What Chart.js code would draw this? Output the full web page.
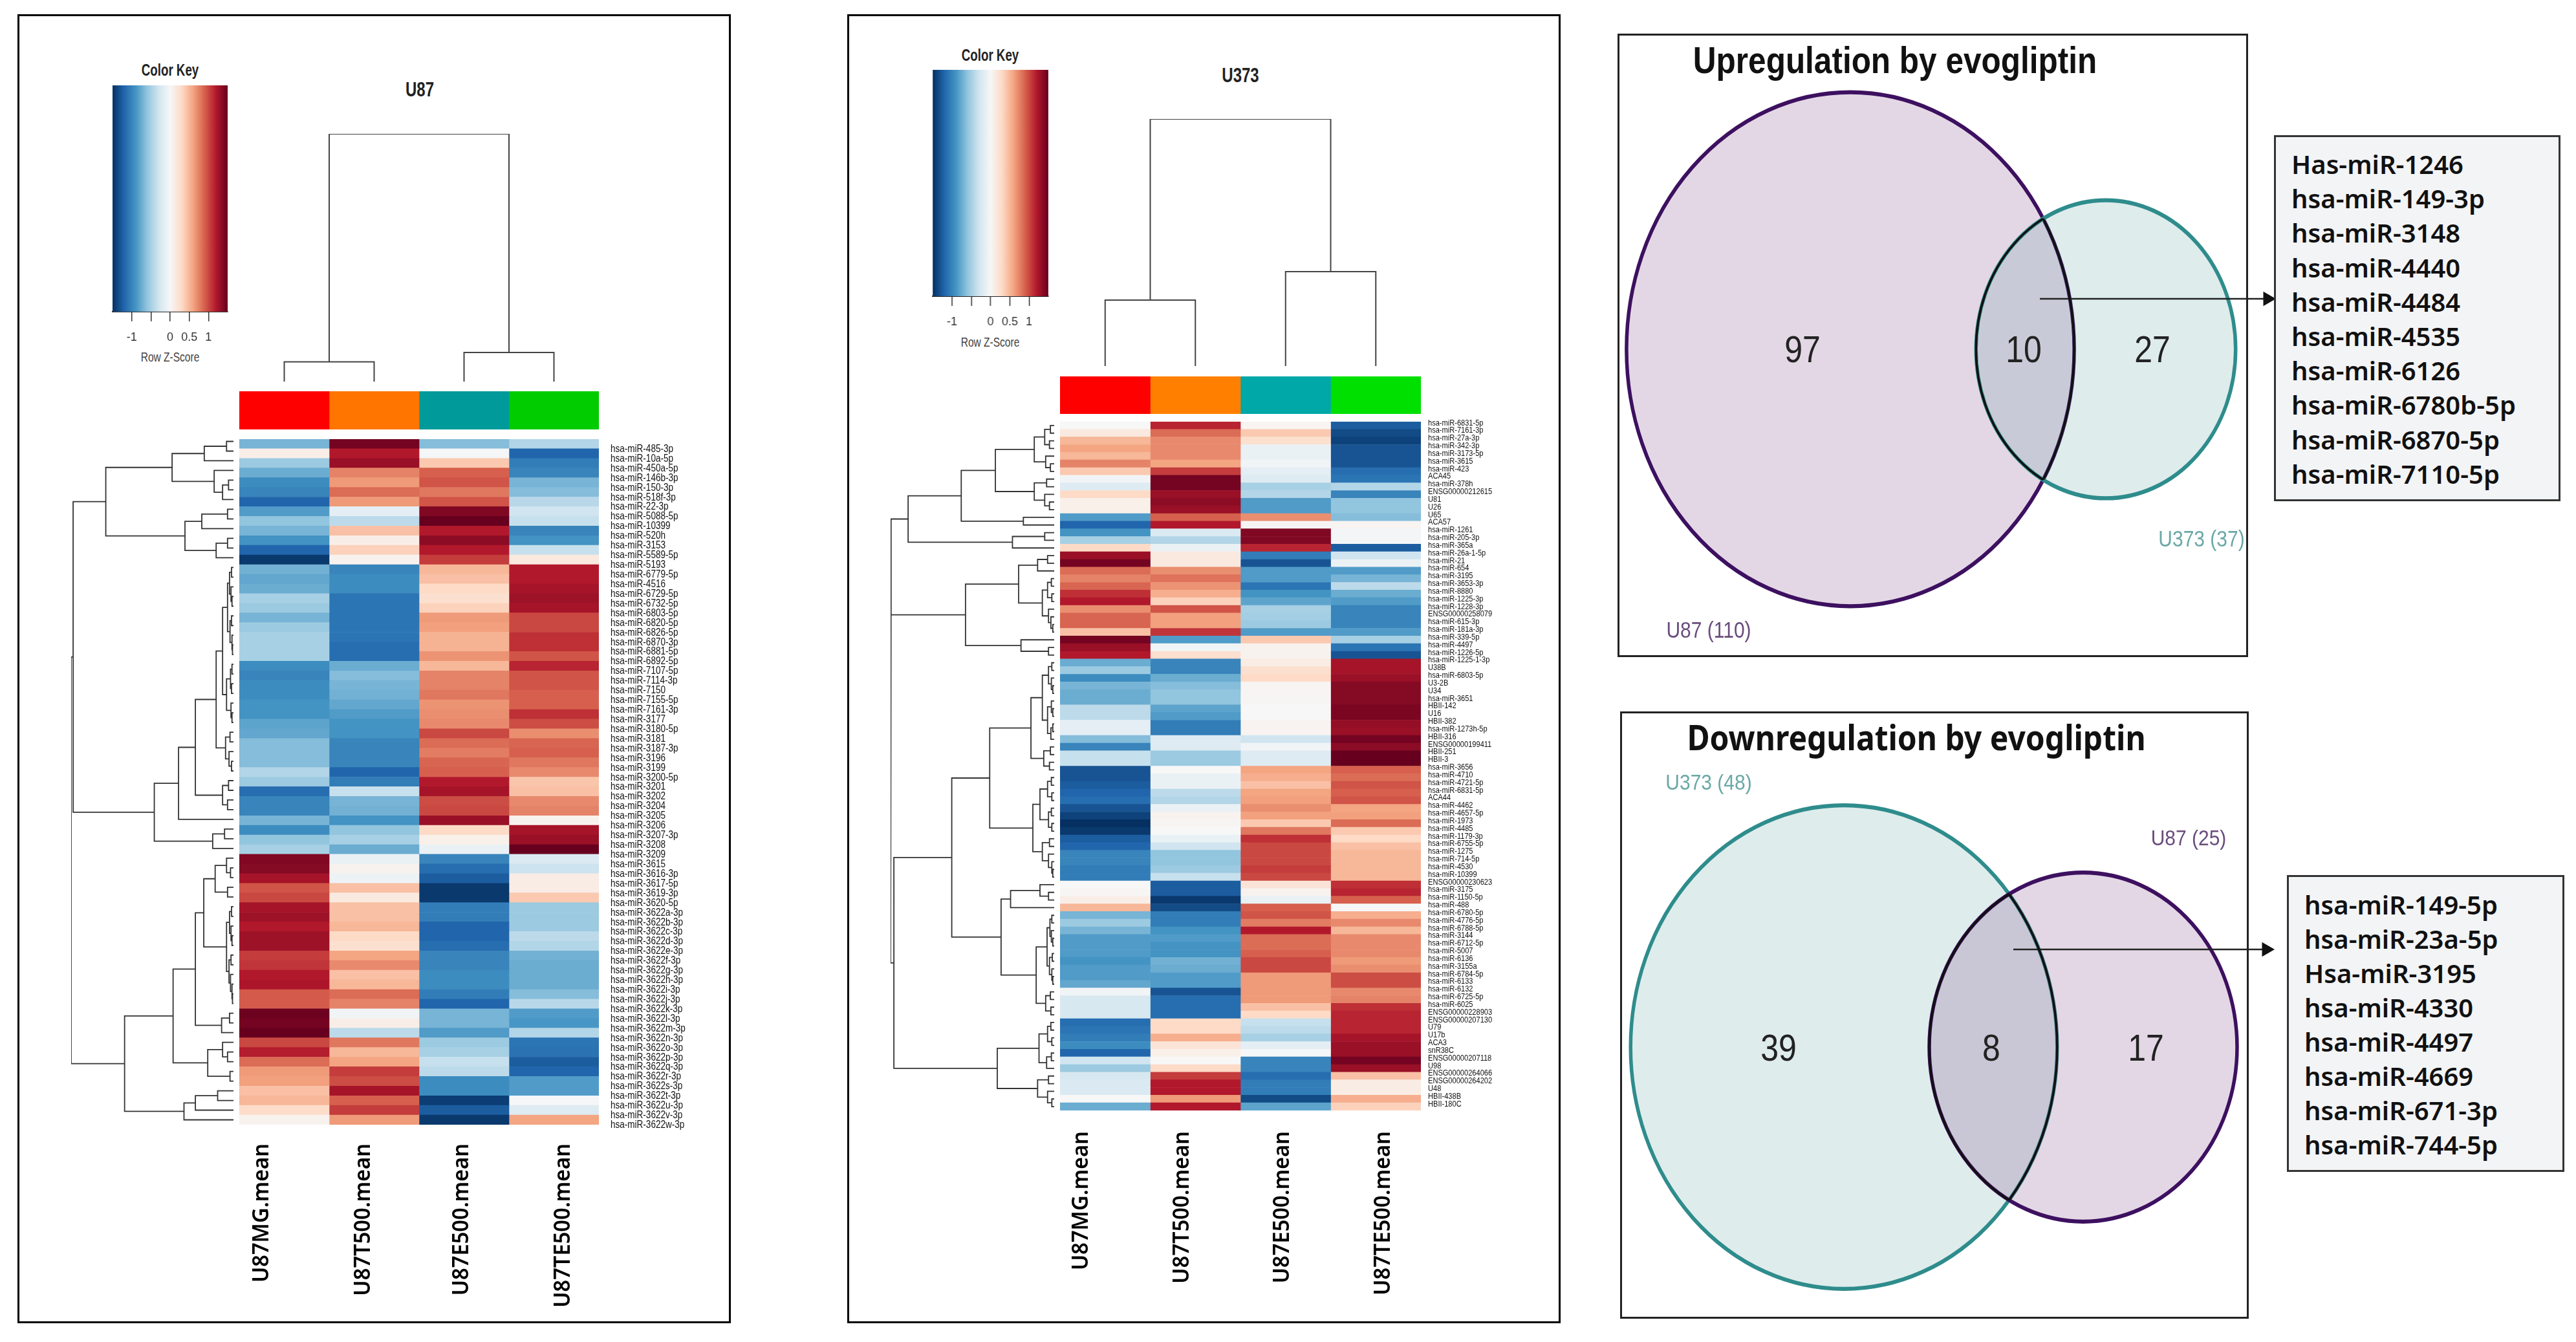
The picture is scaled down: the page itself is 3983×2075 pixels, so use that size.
<!DOCTYPE html>
<html>
<head>
<meta charset="utf-8">
<title>U87 / U373 miRNA heatmaps and evogliptin Venn diagrams</title>
<script src="https://cdn.jsdelivr.net/npm/chart.js@4/dist/chart.umd.js"></script>
<style>
    html, body { margin: 0; padding: 0; background: #fff; }
    #stage { position: relative; width: 3983px; height: 2075px; overflow: hidden; background: #fff; }
    .frame { position: absolute; box-sizing: border-box; background: transparent; }
    .label { position: absolute; white-space: nowrap; line-height: 1; }
    .gene-box { position: absolute; box-sizing: border-box; background: #f3f4f6; border: 3px solid #333; }
</style>
</head>
<body>
<div id="stage"></div>
<script>
// ==================== DATA ====================
const columnLabels = ['U87MG.mean', 'U87T500.mean', 'U87E500.mean', 'U87TE500.mean'];

// Color key
const keyStops = [-1.5, -1.2, -0.9, -0.6, -0.3, 0, 0.3, 0.6, 0.9, 1.2, 1.5];
const keyColors = ['#053061', '#2166ac', '#4393c3', '#92c5de', '#d1e5f0', '#f7f7f7', '#fddbc7', '#f4a582', '#d6604d', '#b2182b', '#67001f'];
const keyTicks = [-1, -0.5, 0, 0.5, 1];
const keyTickLabels = ['-1', '', '0', '0.5', '1'];

// U87 heatmap
const u87Rows = ['hsa-miR-485-3p','hsa-miR-10a-5p','hsa-miR-450a-5p','hsa-miR-146b-3p','hsa-miR-150-3p','hsa-miR-518f-3p','hsa-miR-22-3p','hsa-miR-5088-5p','hsa-miR-10399','hsa-miR-520h','hsa-miR-3153','hsa-miR-5589-5p','hsa-miR-5193',
    'hsa-miR-6779-5p','hsa-miR-4516','hsa-miR-6729-5p','hsa-miR-6732-5p','hsa-miR-6803-5p','hsa-miR-6820-5p','hsa-miR-6826-5p','hsa-miR-6870-3p','hsa-miR-6881-5p','hsa-miR-6892-5p',
    'hsa-miR-7107-5p','hsa-miR-7114-3p','hsa-miR-7150','hsa-miR-7155-5p','hsa-miR-7161-3p','hsa-miR-3177','hsa-miR-3180-5p','hsa-miR-3181','hsa-miR-3187-3p','hsa-miR-3196','hsa-miR-3199','hsa-miR-3200-5p','hsa-miR-3201',
    'hsa-miR-3202','hsa-miR-3204','hsa-miR-3205','hsa-miR-3206','hsa-miR-3207-3p','hsa-miR-3208','hsa-miR-3209','hsa-miR-3615','hsa-miR-3616-3p','hsa-miR-3617-5p','hsa-miR-3619-3p','hsa-miR-3620-5p',
    'hsa-miR-3622a-3p','hsa-miR-3622b-3p','hsa-miR-3622c-3p','hsa-miR-3622d-3p','hsa-miR-3622e-3p','hsa-miR-3622f-3p','hsa-miR-3622g-3p','hsa-miR-3622h-3p','hsa-miR-3622i-3p','hsa-miR-3622j-3p','hsa-miR-3622k-3p','hsa-miR-3622l-3p','hsa-miR-3622m-3p','hsa-miR-3622n-3p','hsa-miR-3622o-3p','hsa-miR-3622p-3p','hsa-miR-3622q-3p','hsa-miR-3622r-3p','hsa-miR-3622s-3p','hsa-miR-3622t-3p','hsa-miR-3622u-3p','hsa-miR-3622v-3p','hsa-miR-3622w-3p'];
const u87MG = [-0.7,0.1,-0.55,-0.75,-0.95,-1.0,-1.2,-0.85,-0.6,-0.7,-0.9,-1.2,-1.45,
    -0.72,-0.78,-0.75,-0.5,-0.55,-0.7,-0.55,-0.5,-0.5,-0.5,-0.95,-1.0,-0.95,-0.95,-0.9,-0.9,-0.8,-0.78,-0.65,-0.65,-0.65,-0.45,-0.55,-1.15,
    -1.0,-1.0,-0.7,-0.95,-0.6,-0.5,
    1.4,1.38,1.25,0.95,1.0,1.25,1.28,1.2,1.28,1.28,1.05,1.08,1.2,1.22,0.92,0.92,1.48,1.45,1.5,1.0,1.18,0.85,0.65,0.62,0.45,0.5,0.28,0.05];
const u87T500 = [1.45,1.2,1.3,0.75,0.65,0.85,0.65,-0.15,-0.4,0.45,0.1,0.35,0.05,
    -1.0,-0.95,-0.95,-1.1,-1.1,-1.1,-1.1,-1.1,-1.15,-1.15,-0.75,-0.65,-0.7,-0.72,-0.78,-0.85,-0.9,-0.9,-1.0,-1.0,-1.0,-1.2,-1.05,-0.35,
    -0.7,-0.72,-0.9,-0.6,-0.5,-0.75,
    -0.1,0.05,-0.08,0.45,0.15,0.45,0.45,0.5,0.3,0.25,0.6,0.72,0.45,0.5,0.85,0.75,-0.05,0.1,-0.4,0.8,0.5,0.6,1.05,0.98,1.25,0.9,1.05,0.65];
const u87E500 = [-0.65,-0.02,0.4,0.9,0.95,0.8,0.95,1.4,1.5,1.2,1.35,1.2,1.05,
    0.5,0.45,0.3,0.25,0.35,0.65,0.62,0.52,0.52,0.68,0.5,0.75,0.75,0.8,0.68,0.7,0.72,1.0,0.85,0.78,0.88,0.9,1.2,1.25,
    0.98,1.0,1.3,0.3,0.08,-0.1,
    -1.0,-1.15,-1.25,-1.45,-1.45,-1.05,-1.05,-1.2,-1.2,-1.15,-1.0,-1.0,-0.95,-0.95,-1.05,-1.2,-0.7,-0.7,-0.85,-0.55,-0.5,-0.35,-0.4,-0.95,-0.95,-1.42,-1.25,-1.45];
const u87TE500 = [-0.45,-1.2,-1.05,-1.0,-0.7,-0.65,-0.42,-0.3,-0.35,-1.0,-0.9,-0.35,0.15,
    1.2,1.2,1.25,1.28,1.25,1.0,1.0,1.1,1.1,0.95,1.15,0.95,0.95,0.9,0.9,1.1,0.98,0.7,0.88,0.9,0.8,0.72,0.42,0.45,
    0.72,0.75,0.05,1.25,1.3,1.5,
    -0.22,-0.32,0.12,0.12,0.4,-0.55,-0.55,-0.55,-0.4,-0.45,-0.72,-0.75,-0.75,-0.75,-0.65,-0.42,-0.85,-0.88,-0.45,-1.1,-1.12,-1.25,-1.2,-0.85,-0.85,-0.02,-0.2,0.6];

// U373 heatmap
const u373Rows = ['hsa-miR-6831-5p','hsa-miR-7161-3p','hsa-miR-27a-3p','hsa-miR-342-3p','hsa-miR-3173-5p','hsa-miR-3615','hsa-miR-423','ACA45','hsa-miR-378h','ENSG00000212615','U81','U26','U65','ACA57','hsa-miR-1261','hsa-miR-205-3p','hsa-miR-365a','hsa-miR-26a-1-5p','hsa-miR-21','hsa-miR-654','hsa-miR-3195','hsa-miR-3653-3p','hsa-miR-8880',
    'hsa-miR-1225-3p','hsa-miR-1228-3p','ENSG00000258079','hsa-miR-615-3p','hsa-miR-181a-3p','hsa-miR-339-5p','hsa-miR-4497','hsa-miR-1226-5p','hsa-miR-1225-1-3p','U38B','hsa-miR-6803-5p','U3-2B','U34','hsa-miR-3651','HBII-142','U16','HBII-382','hsa-miR-1273h-5p','HBII-316','ENSG00000199411','HBII-251','HBII-3',
    'hsa-miR-3656','hsa-miR-4710','hsa-miR-4721-5p','hsa-miR-6831-5p','ACA44','hsa-miR-4462','hsa-miR-4657-5p','hsa-miR-1973','hsa-miR-4485','hsa-miR-1179-3p','hsa-miR-6755-5p','hsa-miR-1275','hsa-miR-714-5p','hsa-miR-4530','hsa-miR-10399','ENSG00000230623','hsa-miR-3175','hsa-miR-1150-5p','hsa-miR-488',
    'hsa-miR-6780-5p','hsa-miR-4776-5p','hsa-miR-6788-5p','hsa-miR-3144','hsa-miR-6712-5p','hsa-miR-5007','hsa-miR-6136','hsa-miR-3155a','hsa-miR-6784-5p','hsa-miR-6133','hsa-miR-6132','hsa-miR-6725-5p','hsa-miR-6025','ENSG00000228903','ENSG00000207130','U79','U17b','ACA3','snR38C','ENSG00000207118','U98','ENSG00000264066','ENSG00000264202','U48','HBII-438B','HBII-180C'];
const u373MG = [0.0,0.15,0.5,0.6,0.5,0.75,0.4,-0.05,-0.2,0.3,
    0.08,0.08,-0.85,-1.2,-0.9,-0.5,0.3,1.3,1.45,0.85,
    0.75,0.88,1.1,1.2,0.7,0.88,0.88,0.45,1.45,1.3,
    1.2,-0.75,-0.55,-0.95,-0.7,-0.75,-0.75,-0.4,-0.4,-0.15,
    -0.15,-0.65,-1.0,-0.35,-0.35,-1.3,
    -1.3,-1.25,-1.2,-1.15,-1.3,-1.4,-1.5,-1.45,-1.25,-1.2,-1.0,-1.0,-1.05,-1.05,
    0.0,0.02,0.1,0.5,-0.7,-0.55,-0.7,-0.85,-0.85,-0.85,-0.9,-0.85,-0.85,-0.78,-0.05,-0.25,-0.25,-0.25,
    -1.15,-1.1,-1.05,-0.95,-1.2,-0.3,-0.55,-0.25,-0.22,-0.22,0.0,-0.75];
const u373T500 = [1.15,0.85,0.72,0.72,0.72,0.6,1.05,1.45,1.45,1.3,
    1.35,1.3,0.9,1.2,-0.22,-0.45,-0.1,0.15,0.15,0.7,
    0.82,0.68,0.55,0.35,0.95,0.62,0.62,1.08,-0.85,-0.05,
    0.25,-1.0,-1.0,-0.75,-0.65,-0.6,-0.6,-0.8,-0.85,-1.05,
    -1.05,-0.2,-0.2,-0.55,-0.55,0.0,
    -0.1,-0.1,-0.4,-0.45,-0.1,0.05,0.02,0.0,-0.1,-0.3,-0.6,-0.6,-0.55,-0.35,
    -1.25,-1.25,-1.45,-1.35,-1.05,-1.05,-0.9,-0.85,-0.9,-0.9,-0.72,-0.75,-0.85,-0.85,-1.3,-1.15,-1.15,-1.15,
    0.3,0.3,0.55,0.2,0.08,0.0,0.3,1.05,1.2,1.2,0.65,1.2];
const u373E500 = [0.03,0.4,0.25,-0.1,-0.1,-0.05,-0.15,-0.2,-0.5,-0.45,
    -0.85,-0.85,0.7,0.02,1.4,1.4,1.15,-1.05,-1.3,-0.85,
    -0.85,-1.1,-0.9,-0.8,-0.5,-0.52,-0.55,-0.85,0.4,0.05,
    0.05,0.12,0.25,0.3,0.03,0.02,0.02,0.0,0.0,0.04,
    0.04,-0.3,-0.05,-0.2,-0.2,0.6,
    0.55,0.45,0.6,0.62,0.7,0.62,0.4,0.8,1.1,1.0,1.0,1.0,1.05,1.0,
    0.2,0.05,-0.1,0.9,0.95,0.78,1.2,0.85,0.85,0.9,1.0,1.0,0.65,0.65,0.65,0.65,0.45,0.3,
    -0.35,-0.4,-0.5,-0.15,-0.02,-1.0,-1.0,-1.15,-1.05,-1.05,-1.35,-0.8];
const u373TE500 = [-1.25,-1.35,-1.4,-1.3,-1.3,-1.3,-1.15,-1.1,-0.45,-1.0,
    -0.6,-0.6,-0.65,0.03,-0.03,-0.03,-1.25,-0.3,-0.1,-0.85,
    -0.7,-0.4,-0.75,-0.85,-1.0,-1.0,-1.0,-0.85,-0.5,-1.1,
    -1.3,1.25,1.25,1.3,1.38,1.38,1.38,1.42,1.42,1.32,
    1.3,1.45,1.35,1.5,1.5,0.9,
    0.85,0.95,0.9,0.95,0.6,0.62,0.85,0.4,0.3,0.45,0.5,0.5,0.5,0.5,
    1.1,1.15,0.9,0.0,0.55,0.72,0.5,0.72,0.72,0.72,0.65,0.7,0.98,0.98,0.72,0.75,1.1,1.15,
    1.15,1.15,1.25,1.3,1.3,1.45,1.3,0.45,0.12,0.12,0.55,0.35];

// Dendrograms: a node is [height, left, right], a leaf is a row or column number
const u87ColTree = [383, [30.5, 0, 1], [45, 2, 3]];
const u373ColTree = [382, [102, 0, 1], [146, 2, 3]];

const u87TreeA = [258,
    [124, [59, [14, 0, 1], 2], [39, 3, [22, [10, 4, 5], 6]]],
    [98, [64, [12, 7, 8], 9], [35, [12, 10, 11], 12]]];
const u87TreeB1 = [35,
    [22, [12, [8, [4, 13, 14], [5, 15, [3, 16, 17]]], [7, [4, 18, 19], [3, 20, [2, 21, 22]]]],
        [14, [6, [3, 23, 24], [4, 25, 26]], [5, 27, [3, 28, 29]]]],
    [16, [7, 30, 31], [9, 32, [4, 33, 34]]]];
const u87TreeB = [160,
    [111, [77, u87TreeB1, [22, [10, 35, 36], [12, 37, 38]]], 39],
    [42, [18, 40, 41], 42]];
const u87TreeC1 = [60,
    [37, [14, 43, [6, 44, 45]], [12, 46, 47]],
    [14, [8, [4, 48, 49], [5, 50, [3, 51, 52]]], [9, [5, 53, 54], [6, 55, [3, 56, [2, 57, 58]]]]]];
const u87TreeC = [220,
    [122, [77, u87TreeC1, [24, [8, 59, 60], 61]], [52, [22, 62, [12, 63, 64]], [7, 65, 66]]],
    [100, [77, [32, 67, 68], 69], 70]];
const u87RowTree = [328, [324, u87TreeA, u87TreeB], u87TreeC];

const u373TreeP = [344,
    [308,
        [196,
            [124, [42, [20, [8, 0, 1], [10, 2, 3]], [18, 4, [8, 5, 6]]], [42, [16, 7, 8], [20, 9, [10, 10, 11]]]],
            [65, 12, 13]],
        [88, [20, 14, 15], 16]],
    [187,
        [75, [35, [14, 17, 18], 19], [25, [14, [6, 20, 21], [5, 22, 23]], [12, 24, [7, 25, [3, 26, 27]]]]],
        [70, 28, [12, 29, 30]]]];
const u373TreeQ1 = [136,
    [49, [25, [12, [5, 31, 32], [6, 33, [3, 34, 35]]], [14, [6, 36, [3, 37, 38]], [7, [3, 39, 40], 41]]], [22, [8, 42, 43], [10, 44, 45]]],
    [45, [30, [14, [6, 46, 47], [5, 48, 49]], [12, [6, 50, 51], [5, 52, 53]]], [25, [10, 54, 55], [12, 56, [5, 57, [3, 58, 59]]]]]];
const u373TreeQ2 = [112,
    [92, [30, 60, [12, 61, 62]], 63],
    [38, [15, [9, [5, 64, 65], [6, 66, [3, 67, 68]]], [10, [4, 69, 70], [5, 71, [3, 72, 73]]]], [18, [8, 74, 75], [7, 76, 77]]]];
const u373TreeQ3 = [120,
    [32, [14, [7, 78, 79], [5, 80, 81]], [16, [6, 82, 83], 84]],
    [35, [12, 85, 86], [14, 87, [5, 88, 89]]]];
const u373RowTree = [345, u373TreeP, [338, [216, u373TreeQ1, u373TreeQ2], u373TreeQ3]];

// Venn diagrams
const upSetNames = ['U87 (110)', 'U373 (37)'];
const upSetSizes = [110, 37];
const upCounts = [97, 10, 27];
const upGenes = ['Has-miR-1246', 'hsa-miR-149-3p', 'hsa-miR-3148', 'hsa-miR-4440', 'hsa-miR-4484', 'hsa-miR-4535', 'hsa-miR-6126', 'hsa-miR-6780b-5p', 'hsa-miR-6870-5p', 'hsa-miR-7110-5p'];
const downSetNames = ['U373 (48)', 'U87 (25)'];
const downSetSizes = [48, 25];
const downCounts = [39, 8, 17];
const downGenes = ['hsa-miR-149-5p', 'hsa-miR-23a-5p', 'Hsa-miR-3195', 'hsa-miR-4330', 'hsa-miR-4497', 'hsa-miR-4669', 'hsa-miR-671-3p', 'hsa-miR-744-5p'];

// ==================== HELPERS ====================
const stage = document.getElementById('stage');
const SANS = "'Liberation Sans', sans-serif";
const PURPLE = { stroke: '#3d1060', fill: 'rgba(90, 20, 100, 0.17)', text: '#6a4c7c' };
const TEAL = { stroke: '#2f8c8c', fill: 'rgba(67, 143, 143, 0.17)', text: '#6ba8a6' };

Chart.defaults.animation = false;
Chart.defaults.responsive = false;
Chart.defaults.devicePixelRatio = 1;
Chart.defaults.layout.autoPadding = false;
Chart.defaults.plugins.legend.display = false;
Chart.defaults.plugins.tooltip.enabled = false;
Chart.defaults.events = [];

function makeCanvas(x, y, w, h) {
    const canvas = document.createElement('canvas');
    canvas.width = w;
    canvas.height = h;
    canvas.style.cssText = `position:absolute;left:${x}px;top:${y}px;width:${w}px;height:${h}px`;
    stage.appendChild(canvas);
    return canvas;
}

function addFrame(x1, y1, x2, y2, border) {
    const div = document.createElement('div');
    div.className = 'frame';
    div.style.cssText = `left:${x1}px;top:${y1}px;width:${x2 - x1}px;height:${y2 - y1}px;border:${border}`;
    stage.appendChild(div);
}

function addText(text, x, y, css, scaleY, scaleX) {
    const span = document.createElement('span');
    span.className = 'label';
    span.textContent = text;
    span.style.cssText = `left:${x}px;top:${y}px;${css};transform:translate(-50%,-50%) scale(${scaleX || 1},${scaleY || 1})`;
    stage.appendChild(span);
}

function zColor(z) {
    const last = keyStops.length - 1;
    let i = 0;
    while (i < last - 1 && z > keyStops[i + 1]) i++;
    const t = Math.min(1, Math.max(0, (z - keyStops[i]) / (keyStops[i + 1] - keyStops[i])));
    const c1 = parseInt(keyColors[i].slice(1), 16);
    const c2 = parseInt(keyColors[i + 1].slice(1), 16);
    const mix = shift => Math.round(((c1 >> shift) & 255) * (1 - t) + ((c2 >> shift) & 255) * t);
    return `rgb(${mix(16)},${mix(8)},${mix(0)})`;
}

// walks the tree and writes its elbows as points, nulls break the line
function treeSegments(node, points, flip) {
    if (typeof node === 'number') return { pos: node + 0.5, h: 0 };
    const a = treeSegments(node[1], points, flip);
    const b = treeSegments(node[2], points, flip);
    const elbow = [[a.h, a.pos], [node[0], a.pos], [node[0], b.pos], [b.h, b.pos]];
    elbow.forEach(p => points.push(flip ? { x: p[1], y: p[0] } : { x: p[0], y: p[1] }));
    points.push({ x: null, y: null });
    return { pos: (a.pos + b.pos) / 2, h: node[0] };
}

// no condensed font is installed, so the axes squeeze their labels themselves
class NarrowRowScale extends Chart.CategoryScale {
    drawLabels(chartArea) {
        const anchor = this.left + this.options.ticks.padding;
        this.ctx.save();
        this.ctx.translate(anchor, 0);
        this.ctx.scale(this.options.ticks.squeeze, 1);
        this.ctx.translate(-anchor, 0);
        super.drawLabels(chartArea);
        this.ctx.restore();
    }
}
NarrowRowScale.id = 'narrowRows';
NarrowRowScale.defaults = Chart.CategoryScale.defaults;

class NarrowColumnScale extends Chart.LinearScale {
    drawLabels(chartArea) {
        const anchor = this.top + this.options.ticks.padding;
        this.ctx.save();
        this.ctx.translate(0, anchor);
        this.ctx.scale(1, this.options.ticks.squeeze);
        this.ctx.translate(0, -anchor);
        super.drawLabels(chartArea);
        this.ctx.restore();
    }
}
NarrowColumnScale.id = 'narrowColumns';
NarrowColumnScale.defaults = Chart.LinearScale.defaults;
Chart.register(NarrowRowScale, NarrowColumnScale);

// ==================== CHARTS ====================
function renderizarColorKey(box) {
    new Chart(makeCanvas(box.left - 30, box.top, box.width + 60, box.height + 90), {
        type: 'bar',
        data: {
            labels: ['Z'],
            datasets: [{
                data: [[keyStops[0], keyStops[keyStops.length - 1]]],
                barPercentage: 1,
                categoryPercentage: 1,
                backgroundColor: ctx => {
                    const area = ctx.chart.chartArea;
                    const scale = ctx.chart.scales.x;
                    if (!area || !scale) return '#f7f7f7';
                    const gradient = ctx.chart.ctx.createLinearGradient(area.left, 0, area.right, 0);
                    keyStops.forEach((v, i) => {
                        gradient.addColorStop((v - keyStops[0]) / (keyStops[keyStops.length - 1] - keyStops[0]), keyColors[i]);
                    });
                    return gradient;
                }
            }]
        },
        options: {
            indexAxis: 'y',
            layout: { padding: { left: 30, right: 30 } },
            scales: {
                y: { display: false },
                x: {
                    min: keyStops[0],
                    max: keyStops[keyStops.length - 1],
                    afterBuildTicks: s => { s.ticks = keyTicks.map(v => ({ value: v })); },
                    afterFit: s => { s.height = 90; },
                    border: { display: true, color: '#222', width: 2 },
                    grid: { drawOnChartArea: false, drawTicks: true, tickLength: 15, color: '#333', lineWidth: 1.5 },
                    ticks: {
                        autoSkip: false,
                        maxRotation: 0,
                        padding: 14,
                        color: '#333',
                        font: { family: SANS, size: 18 },
                        callback: (value, index) => keyTickLabels[index]
                    }
                }
            }
        }
    });
}

function renderizarDendroColunas(tree, box) {
    const points = [];
    treeSegments(tree, points, true);
    new Chart(makeCanvas(box.left, box.top, box.width, box.height), {
        type: 'scatter',
        data: { datasets: [{ data: points, showLine: true, pointRadius: 0, borderColor: '#444', borderWidth: 2, clip: false }] },
        options: {
            scales: {
                x: { type: 'linear', display: false, min: 0, max: 4 },
                y: { type: 'linear', display: false, min: 0, max: tree[0] }
            }
        }
    });
}

function renderizarDendroLinhas(tree, nRows, box) {
    const points = [];
    treeSegments(tree, points, false);
    new Chart(makeCanvas(box.left, box.top, box.width, box.height), {
        type: 'scatter',
        data: { datasets: [{ data: points, showLine: true, pointRadius: 0, borderColor: '#333', borderWidth: 1.8, clip: false }] },
        options: {
            scales: {
                x: { type: 'linear', display: false, reverse: true, min: 0, max: tree[0] },
                y: { type: 'linear', display: false, reverse: true, min: 0, max: nRows }
            }
        }
    });
}

function renderizarFaixa(colors, box) {
    new Chart(makeCanvas(box.left, box.top, box.width, box.height), {
        type: 'bar',
        data: {
            labels: ['group'],
            datasets: colors.map(c => ({ data: [1], backgroundColor: c, barPercentage: 1, categoryPercentage: 1 }))
        },
        options: {
            indexAxis: 'y',
            scales: {
                x: { display: false, stacked: true, min: 0, max: colors.length },
                y: { display: false, stacked: true }
            }
        }
    });
}

function renderizarHeatmap(rows, columns, labelSlots, box) {
    const pad = 24;
    const rightAxis = 250;
    const bottomAxis = 345;
    new Chart(makeCanvas(box.left - pad, box.top - pad, pad + box.width + rightAxis, pad + box.height + bottomAxis), {
        type: 'bar',
        data: {
            labels: rows,
            datasets: columns.map(col => ({
                data: col.map(() => 1),
                backgroundColor: col.map(zColor),
                barPercentage: 1,
                categoryPercentage: 1
            }))
        },
        options: {
            indexAxis: 'y',
            layout: { padding: { left: pad, top: pad, right: 0, bottom: 0 } },
            scales: {
                x: {
                    type: 'narrowColumns',
                    stacked: true,
                    min: 0,
                    max: columns.length,
                    afterBuildTicks: s => { s.ticks = labelSlots.map(v => ({ value: v })); },
                    afterFit: s => { s.height = bottomAxis; },
                    border: { display: false },
                    grid: { display: false, drawTicks: false },
                    ticks: {
                        autoSkip: false,
                        minRotation: 90,
                        maxRotation: 90,
                        padding: box.columnGap,
                        squeeze: 0.96,
                        color: '#000',
                        font: { family: "'Noto Sans', sans-serif", size: 34, weight: '600' },
                        callback: (value, index) => columnLabels[index]
                    }
                },
                y: {
                    type: 'narrowRows',
                    stacked: true,
                    position: 'right',
                    afterFit: s => { s.width = rightAxis; },
                    border: { display: false },
                    grid: { display: false, drawTicks: false },
                    ticks: {
                        autoSkip: false,
                        padding: box.rowGap,
                        squeeze: 0.82,
                        labelOffset: box.labelOffset,
                        color: '#111',
                        font: { family: SANS, size: box.labelSize }
                    }
                }
            }
        }
    });
}

// bubble whose circle is stretched to the ellipse of the stretched figure
class VennController extends Chart.BubbleController {
    draw() {
        const ctx = this.chart.ctx;
        const aspect = this.chart.options.vennAspect;
        this.getMeta().data.forEach(point => {
            ctx.save();
            ctx.translate(point.x, point.y);
            ctx.scale(1, aspect);
            ctx.translate(-point.x, -point.y);
            point.draw(ctx, this.chart.chartArea);
            ctx.restore();
        });
    }
}
VennController.id = 'venn';
VennController.defaults = Chart.BubbleController.defaults;
VennController.overrides = Chart.BubbleController.overrides;
Chart.register(VennController);

// black outline of the shared part of the two sets
const lensPlugin = {
    id: 'lens',
    afterDatasetsDraw(chart) {
        const aspect = chart.options.vennAspect;
        const a = chart.getDatasetMeta(0).data[0];
        const b = chart.getDatasetMeta(1).data[0];
        const ctx = chart.ctx;
        const path = p => {
            ctx.beginPath();
            ctx.ellipse(p.x, p.y, p.options.radius, p.options.radius * aspect, 0, 0, Math.PI * 2);
        };
        [[a, b], [b, a]].forEach(pair => {
            ctx.save();
            path(pair[0]);
            ctx.clip();
            path(pair[1]);
            ctx.strokeStyle = '#111';
            ctx.lineWidth = 3.5;
            ctx.stroke();
            ctx.restore();
        });
    }
};

function renderizarVenn(setSizes, styles, centersX, centerY, arrow, radiusUnit, aspect, box) {
    new Chart(makeCanvas(box.left, box.top, box.width, box.height), {
        type: 'venn',
        data: {
            datasets: [
                {
                    order: 2,
                    data: [{ x: centersX[0], y: centerY, r: radiusUnit * Math.sqrt(setSizes[0]) }],
                    backgroundColor: styles[0].fill,
                    borderColor: styles[0].stroke,
                    borderWidth: 5.5,
                    clip: false
                },
                {
                    order: 1,
                    data: [{ x: centersX[1], y: centerY, r: radiusUnit * Math.sqrt(setSizes[1]) }],
                    backgroundColor: styles[1].fill,
                    borderColor: styles[1].stroke,
                    borderWidth: 5.5,
                    clip: false
                },
                {
                    type: 'scatter',
                    order: 0,
                    data: [{ x: arrow[0], y: arrow[2] }, { x: arrow[1], y: arrow[2] }],
                    showLine: true,
                    borderColor: '#222',
                    borderWidth: 2.5,
                    pointRadius: [0, 13],
                    pointStyle: 'triangle',
                    pointRotation: 90,
                    pointBackgroundColor: '#111',
                    pointBorderWidth: 0,
                    clip: false
                }
            ]
        },
        options: {
            vennAspect: aspect,
            scales: {
                x: { type: 'linear', display: false, min: 0, max: box.width },
                y: { type: 'linear', display: false, reverse: true, min: 0, max: box.height }
            }
        },
        plugins: [lensPlugin]
    });
}

function renderizarGenes(genes, x1, y1, x2, y2, textX, firstY, stepY) {
    const div = document.createElement('div');
    div.className = 'gene-box';
    div.style.cssText = `left:${x1}px;top:${y1}px;width:${x2 - x1}px;height:${y2 - y1}px`;
    stage.appendChild(div);
    genes.forEach((gene, i) => {
        const span = document.createElement('span');
        span.className = 'label';
        span.textContent = gene;
        span.style.cssText = `left:${textX}px;top:${firstY + i * stepY}px;transform:translateY(-50%);font:600 40px 'Noto Sans',sans-serif;color:#111`;
        stage.appendChild(span);
    });
}

// ==================== PAGE ====================
const blackFrame = '3.5px solid #000';
const thinFrame = '3px solid #222';
addFrame(27, 22, 1130, 2046, blackFrame);
addFrame(1310, 22, 2413, 2046, blackFrame);
addFrame(2501, 52, 3476, 1016, thinFrame);
addFrame(2505, 1100, 3477, 2039, thinFrame);

// U87 panel
addText('Color Key', 263, 108, `font:bold 26px ${SANS};color:#222`, 1, 0.72);
addText('U87', 649, 138, `font:bold 32px ${SANS};color:#222`, 1, 0.75);
addText('Row Z-Score', 263, 552, `font:21px ${SANS};color:#444`, 1, 0.74);
renderizarColorKey({ left: 174, top: 132, width: 178, height: 349.5 });
renderizarDendroColunas(u87ColTree, { left: 370, top: 207, width: 556, height: 383 });
renderizarFaixa(['#ff0000', '#ff7500', '#009a9a', '#00cc00'], { left: 370, top: 605, width: 556, height: 59 });
renderizarDendroLinhas(u87RowTree, u87Rows.length, { left: 110, top: 675, width: 251, height: 1064 });
renderizarHeatmap(u87Rows, [u87MG, u87T500, u87E500, u87TE500], [0.255, 1.38, 2.48, 3.61],
    { left: 370, top: 675, width: 556, height: 1064, columnGap: 29, rowGap: 18, labelOffset: 8, labelSize: 16.5 });

// U373 panel
addText('Color Key', 1531, 85, `font:bold 26px ${SANS};color:#222`, 1, 0.72);
addText('U373', 1918, 115.5, `font:bold 32px ${SANS};color:#222`, 1, 0.75);
addText('Row Z-Score', 1531, 529, `font:21px ${SANS};color:#444`, 1, 0.74);
renderizarColorKey({ left: 1442, top: 108, width: 178.5, height: 350 });
renderizarDendroColunas(u373ColTree, { left: 1639, top: 184, width: 558, height: 382 });
renderizarFaixa(['#ff0000', '#ff8000', '#00a8a8', '#00e000'], { left: 1639, top: 582, width: 558, height: 58 });
renderizarDendroLinhas(u373RowTree, u373Rows.length, { left: 1377, top: 652, width: 253, height: 1065 });
renderizarHeatmap(u373Rows, [u373MG, u373T500, u373E500, u373TE500], [0.24, 1.355, 2.47, 3.59],
    { left: 1639, top: 652, width: 558, height: 1065, columnGap: 32, rowGap: 11, labelOffset: -4, labelSize: 13.5 });

// Upregulation Venn
addText('Upregulation by evogliptin', 2930, 93, `font:bold 49.5px ${SANS};color:#111`, 1.148);
renderizarVenn(upSetSizes, [PURPLE, TEAL], [361, 756], 485, [654, 1006, 407], 33, 1.148, { left: 2500, top: 55, width: 1030, height: 960 });
addText(String(upCounts[0]), 2787, 540, `font:50px ${SANS};color:#222`, 1.148);
addText(String(upCounts[1]), 3129, 540, `font:50px ${SANS};color:#222`, 1.148);
addText(String(upCounts[2]), 3328, 540, `font:50px ${SANS};color:#222`, 1.148);
addText(upSetNames[0], 2642, 975, `font:30px ${SANS};color:${PURPLE.text}`, 1.148);
addText(upSetNames[1], 3404, 834, `font:30px ${SANS};color:${TEAL.text}`, 1.148);
renderizarGenes(upGenes, 3516, 209, 3959, 775, 3543, 253, 53.2);

// Downregulation Venn
addText('Downregulation by evogliptin', 2963, 1139, "font:bold 48px 'Noto Sans',sans-serif;color:#111", 1.134);
renderizarVenn(downSetSizes, [TEAL, PURPLE], [351, 721], 519, [613, 1004, 368], 47.6, 1.134, { left: 2500, top: 1100, width: 1030, height: 960 });
addText(String(downCounts[0]), 2750, 1621, `font:50px ${SANS};color:#222`, 1.134);
addText(String(downCounts[1]), 3079, 1621, `font:50px ${SANS};color:#222`, 1.134);
addText(String(downCounts[2]), 3318, 1621, `font:50px ${SANS};color:#222`, 1.134);
addText(downSetNames[0], 2642, 1210, `font:30px ${SANS};color:${TEAL.text}`, 1.134);
addText(downSetNames[1], 3384, 1296, `font:30px ${SANS};color:${PURPLE.text}`, 1.134);
renderizarGenes(downGenes, 3536, 1353, 3965, 1812, 3563, 1398, 53);
</script>
</body>
</html>
